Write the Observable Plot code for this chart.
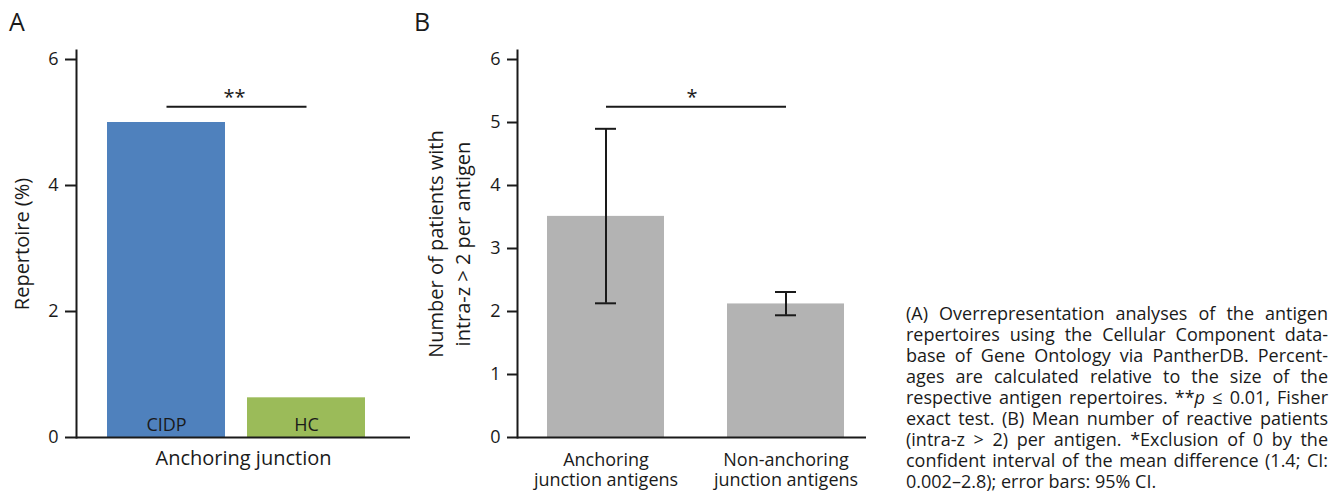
<!DOCTYPE html>
<html>
<head>
<meta charset="utf-8">
<script src="https://cdn.jsdelivr.net/npm/d3@7"></script>
<script src="https://cdn.jsdelivr.net/npm/@observablehq/plot@0.6"></script>
<style>
  body { margin: 0; background: #fff; font-family: "Open Sans", sans-serif; }
  #wrap { position: relative; width: 1337px; height: 492px; overflow: hidden; background: #fff; }
  #a { position: absolute; left: 0; top: 0; }
  #b { position: absolute; left: 400px; top: 0; }
  .letter { position: absolute; top: 6px; font-size: 25px; line-height: 30px; color: #1a1a1a; }
  #caption { position: absolute; left: 906px; top: 303px; width: 422px; font-size: 18px; line-height: 21px; color: #1a1a1a; }
  #caption span { display: block; text-align: justify; text-align-last: justify; white-space: nowrap; }
  #caption span.last { text-align: left; text-align-last: left; }
</style>
</head>
<body>
<div id="wrap">
  <div id="a"></div>
  <div id="b"></div>
  <div class="letter" style="left:9px">A</div>
  <div class="letter" style="left:414px">B</div>
  <div id="caption"></div>
</div>
<script>
// ---------- Panel A data ----------
const groupsA = ["CIDP", "HC"];
const repertoire = [5.0, 0.63];
const colorsA = ["#4f81bd", "#9bbb59"];
const yTicksA = [0, 2, 4, 6];
const yLabelA = "Repertoire (%)";
const xLabelA = "Anchoring junction";
const sigA = [{ from: "CIDP", to: "HC", y: 5.25, label: "**" }];

// ---------- Panel B data ----------
const groupsB = ["Anchoring junction antigens", "Non-anchoring junction antigens"];
const tickLabelsB = ["Anchoring\njunction antigens", "Non-anchoring\njunction antigens"];
const meanPatients = [3.51, 2.12];
const ciLow = [2.13, 1.94];
const ciHigh = [4.9, 2.31];
const yTicksB = [0, 1, 2, 3, 4, 5, 6];
const yLabelB = "Number of patients with\nintra-z > 2 per antigen";
const sigB = [{ from: groupsB[0], to: groupsB[1], y: 5.25, label: "*" }];

// ---------- Caption ----------
const captionLines = [
  "(A) Overrepresentation analyses of the antigen",
  "repertoires using the Cellular Component data-",
  "base of Gene Ontology via PantherDB. Percent-",
  "ages are calculated relative to the size of the",
  "respective antigen repertoires. **<i>p</i> \u2264 0.01, Fisher",
  "exact test. (B) Mean number of reactive patients",
  "(intra-z &gt; 2) per antigen. *Exclusion of 0 by the",
  "confident interval of the mean difference (1.4; CI:",
  "0.002\u20132.8); error bars: 95% CI."
];

const ink = "#1a1a1a";
const fmt = d3.format("d");
const dataA = groupsA.map((g, i) => ({ group: g, value: repertoire[i] }));
const dataB = groupsB.map((g, i) => ({ group: g, value: meanPatients[i], lo: ciLow[i], hi: ciHigh[i] }));

const chartA = Plot.plot({
  width: 415, height: 492,
  marginLeft: 76, marginRight: 5, marginTop: 50, marginBottom: 55,
  style: { fontFamily: "Open Sans", fontSize: "18px", color: ink, background: "transparent", overflow: "visible" },
  x: { domain: groupsA, range: [107, 365], paddingInner: 22 / 140, paddingOuter: 0, axis: null },
  y: { domain: [0, 6.143], axis: null },
  color: { domain: groupsA, range: colorsA },
  marks: [
    Plot.barY(dataA, { x: "group", y: "value", fill: "group" }),
    Plot.text(dataA, { x: "group", y: 0, text: "group", dy: -12, lineAnchor: "middle", fontSize: 18, fill: ink }),
    Plot.frame({ anchor: "left", stroke: ink, strokeWidth: 2 }),
    Plot.ruleY([0], { stroke: ink, strokeWidth: 2 }),
    Plot.axisY({ ticks: yTicksA, tickFormat: fmt, tickSize: 11, tickPadding: 7, strokeWidth: 2, stroke: ink, fill: ink, label: null, fontSize: 18 }),
    Plot.link(sigA, { x1: "from", x2: "to", y1: "y", y2: "y", stroke: ink, strokeWidth: 2 }),
    Plot.text(sigA, { x: d => d.from, y: "y", text: "label", dx: 68, dy: -9, fontSize: 20, lineAnchor: "middle", fill: ink }),
    Plot.text([yLabelA], { frameAnchor: "left", rotate: -90, dx: -54, fontSize: 20, lineAnchor: "middle", textAnchor: "middle", fill: ink }),
    Plot.text([xLabelA], { frameAnchor: "bottom", dy: 21, fontSize: 20, lineAnchor: "middle", fill: ink })
  ]
});
document.getElementById("a").append(chartA);

const chartB = Plot.plot({
  width: 470, height: 492,
  marginLeft: 117, marginRight: 4, marginTop: 50, marginBottom: 55,
  style: { fontFamily: "Open Sans", fontSize: "18px", color: ink, background: "transparent", overflow: "visible" },
  x: { domain: groupsB, range: [147, 444], paddingInner: 0.35, paddingOuter: 0, axis: null },
  y: { domain: [0, 6.143], axis: null },
  marks: [
    Plot.barY(dataB, { x: "group", y: "value", fill: "#b3b3b3" }),
    Plot.ruleX(dataB, { x: "group", y1: "lo", y2: "hi", stroke: ink, strokeWidth: 2 }),
    Plot.tickY(dataB, { x: "group", y: "hi", stroke: ink, strokeWidth: 2, insetLeft: 48, insetRight: 48 }),
    Plot.tickY(dataB, { x: "group", y: "lo", stroke: ink, strokeWidth: 2, insetLeft: 48, insetRight: 48 }),
    Plot.frame({ anchor: "left", stroke: ink, strokeWidth: 2 }),
    Plot.ruleY([0], { stroke: ink, strokeWidth: 2 }),
    Plot.axisY({ ticks: yTicksB, tickFormat: fmt, tickSize: 10, tickPadding: 7, strokeWidth: 2, stroke: ink, fill: ink, label: null, fontSize: 18 }),
    Plot.axisX({ tickSize: 0, tickPadding: 14, tickFormat: d => tickLabelsB[groupsB.indexOf(d)], fontSize: 18, lineHeight: 1.12, fill: ink, label: null }),
    Plot.link(sigB, { x1: "from", x2: "to", y1: "y", y2: "y", stroke: ink, strokeWidth: 2 }),
    Plot.text(sigB, { x: d => d.from, y: "y", text: "label", dx: 86, dy: -9, fontSize: 20, lineAnchor: "middle", fill: ink }),
    Plot.text([yLabelB], { frameAnchor: "left", rotate: -90, dx: -70, fontSize: 20, lineHeight: 1.35, lineAnchor: "middle", textAnchor: "middle", fill: ink })
  ]
});
document.getElementById("b").append(chartB);

const cap = document.getElementById("caption");
captionLines.forEach((t, i) => {
  const s = document.createElement("span");
  if (i === captionLines.length - 1) s.className = "last";
  s.innerHTML = t;
  cap.append(s);
});
</script>
</body>
</html>
